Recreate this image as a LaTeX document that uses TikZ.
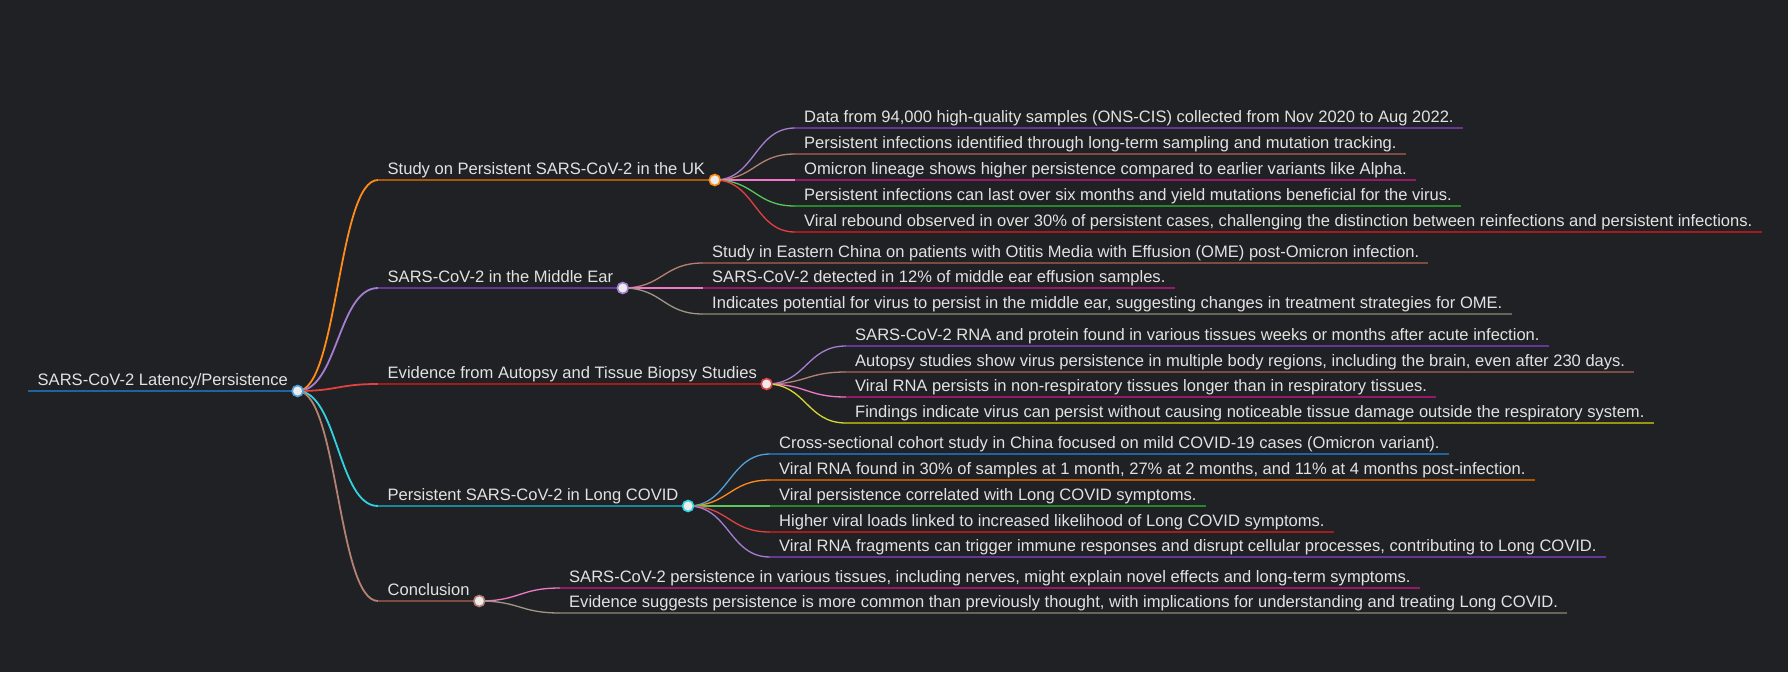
\documentclass[tikz,border=0pt]{standalone}
\usepackage{fontspec}
\setmainfont{Liberation Sans}
\usetikzlibrary{calc}
\definecolor{bgdark}{RGB}{32,33,36}
\definecolor{txtgray}{RGB}{226,226,226}
\definecolor{dotfill}{RGB}{236,236,236}
% light (curve) and dark (underline) tones
\definecolor{blueL}{RGB}{80,160,220}   \definecolor{blueD}{RGB}{31,100,160}
\definecolor{orangeL}{RGB}{255,140,26} \definecolor{orangeD}{RGB}{170,85,10}
\definecolor{greenL}{RGB}{90,200,90}   \definecolor{greenD}{RGB}{40,135,40}
\definecolor{redL}{RGB}{225,65,65}     \definecolor{redD}{RGB}{160,30,30}
\definecolor{purpleL}{RGB}{165,125,210}\definecolor{purpleD}{RGB}{100,55,150}
\definecolor{brownL}{RGB}{180,130,115} \definecolor{brownD}{RGB}{125,75,65}
\definecolor{pinkL}{RGB}{240,120,200}  \definecolor{pinkD}{RGB}{150,25,105}
\definecolor{grayL}{RGB}{160,150,135}  \definecolor{grayD}{RGB}{105,100,90}
\definecolor{oliveL}{RGB}{215,215,50}  \definecolor{oliveD}{RGB}{150,150,20}
\definecolor{cyanL}{RGB}{50,210,225}   \definecolor{cyanD}{RGB}{25,135,150}

% curve from parent to child, then the child's underline
\newcommand{\branchlink}[4]{%
  \draw[#1, #2L] let \p1=(#3), \p2=(#4.south west) in
    (\p1) .. controls ({(\x1+\x2)/2},\y1) and ({(\x1+\x2)/2},\y2) .. (\p2);
  \draw[#1, #2D] (#4.south west) -- (#4.south east);
}

\begin{document}
\begin{tikzpicture}[x=1pt, y=-1pt]

        % --- Styles ---
        \tikzset{
            mapfont/.style={font=\fontsize{16.55}{19}\selectfont, text=txtgray},
            rootnode/.style={mapfont, anchor=south west, inner xsep=9.5pt, inner ysep=5pt, text height=12pt, text depth=0pt},
            topic/.style={rootnode},
            leaf/.style={mapfont, anchor=south west, inner xsep=9pt, inner ysep=5pt, text height=12pt, text depth=0pt},
            rootline/.style={line width=2.2pt},
            topicline/.style={line width=1.8pt},
            leafline/.style={line width=1.3pt},
            dot/.style={circle, fill=dotfill, minimum size=11pt, inner sep=0pt, line width=1.6pt}
        }

        % --- Background ---
        \fill[bgdark] (0,0) rectangle (1788,672);
        \useasboundingbox (0,0) rectangle (1788,672);

        % --- Root ---
        \node[rootnode] (root) at (28,391) {SARS-CoV-2 Latency/Persistence};
        \draw[rootline, blueD] (root.south west) -- (root.south east);

        % --- Main topics ---
        \node[topic] (uk) at (378,180) {Study on Persistent SARS-CoV-2 in the UK};
        \node[topic] (ear) at (378,288) {SARS-CoV-2 in the Middle Ear};
        \node[topic] (autopsy) at (378,384) {Evidence from Autopsy and Tissue Biopsy Studies};
        \node[topic] (longcovid) at (378,506) {Persistent SARS-CoV-2 in Long COVID};
        \node[topic] (concl) at (378,601) {Conclusion};

        \branchlink{topicline}{orange}{root.south east}{uk}
        \branchlink{topicline}{purple}{root.south east}{ear}
        \branchlink{topicline}{red}{root.south east}{autopsy}
        \branchlink{topicline}{cyan}{root.south east}{longcovid}
        \branchlink{topicline}{brown}{root.south east}{concl}

        % --- UK study ---
        \node[leaf] (uk1) at (795,128) {Data from 94,000 high-quality samples (ONS-CIS) collected from Nov 2020 to Aug 2022.};
        \node[leaf] (uk2) at (795,154) {Persistent infections identified through long-term sampling and mutation tracking.};
        \node[leaf] (uk3) at (795,180) {Omicron lineage shows higher persistence compared to earlier variants like Alpha.};
        \node[leaf] (uk4) at (795,206) {Persistent infections can last over six months and yield mutations beneficial for the virus.};
        \node[leaf] (uk5) at (795,232) {Viral rebound observed in over 30\% of persistent cases, challenging the distinction between reinfections and persistent infections.};
        \branchlink{leafline}{purple}{uk.south east}{uk1}
        \branchlink{leafline}{brown}{uk.south east}{uk2}
        \branchlink{leafline}{pink}{uk.south east}{uk3}
        \branchlink{leafline}{green}{uk.south east}{uk4}
        \branchlink{leafline}{red}{uk.south east}{uk5}

        % --- Middle ear ---
        \node[leaf] (ear1) at (703,263) {Study in Eastern China on patients with Otitis Media with Effusion (OME) post-Omicron infection.};
        \node[leaf] (ear2) at (703,288) {SARS-CoV-2 detected in 12\% of middle ear effusion samples.};
        \node[leaf] (ear3) at (703,314) {Indicates potential for virus to persist in the middle ear, suggesting changes in treatment strategies for OME.};
        \branchlink{leafline}{brown}{ear.south east}{ear1}
        \branchlink{leafline}{pink}{ear.south east}{ear2}
        \branchlink{leafline}{gray}{ear.south east}{ear3}

        % --- Autopsy and biopsy ---
        \node[leaf] (aut1) at (846,346) {SARS-CoV-2 RNA and protein found in various tissues weeks or months after acute infection.};
        \node[leaf] (aut2) at (846,372) {Autopsy studies show virus persistence in multiple body regions, including the brain, even after 230 days.};
        \node[leaf] (aut3) at (846,397) {Viral RNA persists in non-respiratory tissues longer than in respiratory tissues.};
        \node[leaf] (aut4) at (846,423) {Findings indicate virus can persist without causing noticeable tissue damage outside the respiratory system.};
        \branchlink{leafline}{purple}{autopsy.south east}{aut1}
        \branchlink{leafline}{brown}{autopsy.south east}{aut2}
        \branchlink{leafline}{pink}{autopsy.south east}{aut3}
        \branchlink{leafline}{olive}{autopsy.south east}{aut4}

        % --- Long COVID ---
        \node[leaf] (lc1) at (770,454) {Cross-sectional cohort study in China focused on mild COVID-19 cases (Omicron variant).};
        \node[leaf] (lc2) at (770,480) {Viral RNA found in 30\% of samples at 1 month, 27\% at 2 months, and 11\% at 4 months post-infection.};
        \node[leaf] (lc3) at (770,506) {Viral persistence correlated with Long COVID symptoms.};
        \node[leaf] (lc4) at (770,532) {Higher viral loads linked to increased likelihood of Long COVID symptoms.};
        \node[leaf] (lc5) at (770,557) {Viral RNA fragments can trigger immune responses and disrupt cellular processes, contributing to Long COVID.};
        \branchlink{leafline}{blue}{longcovid.south east}{lc1}
        \branchlink{leafline}{orange}{longcovid.south east}{lc2}
        \branchlink{leafline}{green}{longcovid.south east}{lc3}
        \branchlink{leafline}{red}{longcovid.south east}{lc4}
        \branchlink{leafline}{purple}{longcovid.south east}{lc5}

        % --- Conclusion ---
        \node[leaf] (con1) at (560,588) {SARS-CoV-2 persistence in various tissues, including nerves, might explain novel effects and long-term symptoms.};
        \node[leaf] (con2) at (560,613) {Evidence suggests persistence is more common than previously thought, with implications for understanding and treating Long COVID.};
        \branchlink{leafline}{pink}{concl.south east}{con1}
        \branchlink{leafline}{gray}{concl.south east}{con2}

        % --- Dots on top ---
        \node[dot, draw=blueL] (rootdot) at (root.south east) {};
        \node[dot, draw=orangeL] (ukdot) at (uk.south east) {};
        \node[dot, draw=purpleL] (eardot) at (ear.south east) {};
        \node[dot, draw=redL] (autdot) at (autopsy.south east) {};
        \node[dot, draw=cyanL] (lcdot) at (longcovid.south east) {};
        \node[dot, draw=brownL] (condot) at (concl.south east) {};

\end{tikzpicture}
\end{document}
